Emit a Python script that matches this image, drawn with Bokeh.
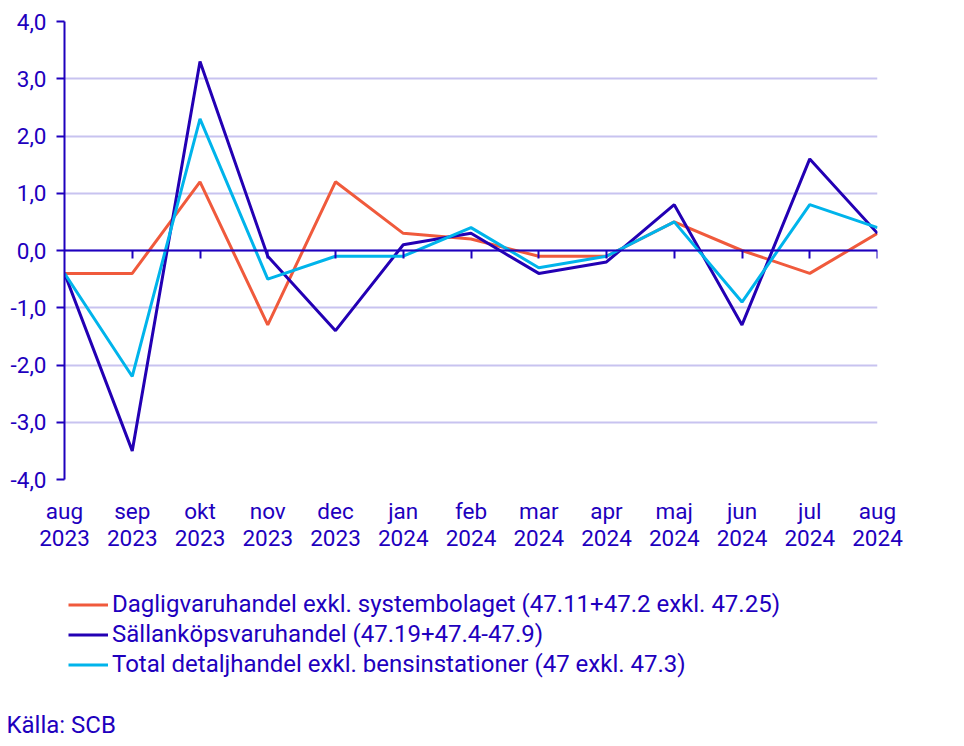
from bokeh.plotting import figure
from bokeh.layouts import column
from bokeh.models import (Range1d, FixedTicker, CustomJSTickFormatter, LinearAxis,
                          Legend, LegendItem, Title)
from bokeh.embed import file_html
from bokeh.resources import INLINE

# ---- data ----
months = ["aug", "sep", "okt", "nov", "dec", "jan", "feb", "mar", "apr", "maj", "jun", "jul", "aug"]
years = ["2023", "2023", "2023", "2023", "2023", "2024", "2024", "2024", "2024", "2024", "2024", "2024", "2024"]
daglig = [-0.4, -0.4, 1.2, -1.3, 1.2, 0.3, 0.2, -0.1, -0.1, 0.5, 0.0, -0.4, 0.3]
sallan = [-0.4, -3.5, 3.3, -0.1, -1.4, 0.1, 0.3, -0.4, -0.2, 0.8, -1.3, 1.6, 0.3]
total = [-0.4, -2.2, 2.3, -0.5, -0.1, -0.1, 0.4, -0.3, -0.1, 0.5, -0.9, 0.8, 0.4]
series_names = [
    "Dagligvaruhandel exkl. systembolaget (47.11+47.2 exkl. 47.25)",
    "Sällanköpsvaruhandel (47.19+47.4-47.9)",
    "Total detaljhandel exkl. bensinstationer (47 exkl. 47.3)",
]
y_ticks = [-4, -3, -2, -1, 0, 1, 2, 3, 4]
source_text = "Källa: SCB"

# ---- style ----
TXT = "#1e00be"
GRID = "#c8c3f0"
COLORS = ["#f05a3c", "#2300b4", "#00b4eb"]
FONT = "Roboto"
W = 947

xs = list(range(len(months)))
labels = {i: f"{m}\n{y}" for i, (m, y) in enumerate(zip(months, years))}

p = figure(frame_width=813, frame_height=458, output_backend="svg", toolbar_location=None,
           x_range=Range1d(xs[0], xs[-1]), y_range=Range1d(y_ticks[0], y_ticks[-1]),
           min_border_left=64, min_border_top=21, min_border_right=W - 64 - 813,
           min_border_bottom=80)
p.outline_line_color = None
p.background_fill_color = "white"
p.border_fill_color = "white"

# x axis (labels only)
xa = p.xaxis[0]
xa.ticker = FixedTicker(ticks=xs)
xa.major_label_overrides = labels
xa.axis_line_color = None
xa.major_tick_line_color = None
xa.minor_tick_line_color = None
xa.major_label_text_font = FONT
xa.major_label_text_font_size = "22.5px"
xa.major_label_text_color = TXT
xa.major_label_text_line_height = 1.05
xa.major_label_standoff = 12

# zero line axis with ticks
za = LinearAxis(fixed_location=0, ticker=FixedTicker(ticks=xs[1:]))
za.axis_line_color = TXT
za.axis_line_width = 2
za.major_tick_line_color = TXT
za.major_tick_line_width = 2
za.major_tick_in = 8
za.major_tick_out = 0
za.minor_tick_line_color = None
za.major_label_text_font_size = "0px"
za.major_label_text_alpha = 0
za.major_label_standoff = 0
p.add_layout(za, "above")

# y axis
ya = p.yaxis[0]
ya.ticker = FixedTicker(ticks=y_ticks)
ya.formatter = CustomJSTickFormatter(code="return tick.toFixed(1).replace('.', ',');")
ya.axis_line_color = TXT
ya.axis_line_width = 2
ya.major_tick_line_color = TXT
ya.major_tick_line_width = 2
ya.major_tick_out = 8
ya.major_tick_in = 0
ya.minor_tick_line_color = None
ya.major_label_text_font = FONT
ya.major_label_text_font_size = "22.5px"
ya.major_label_text_color = TXT
ya.major_label_standoff = 10

p.xgrid.grid_line_color = None
p.ygrid.ticker = FixedTicker(ticks=y_ticks)
p.ygrid.grid_line_color = GRID
p.ygrid.grid_line_width = 2

for vals, c in zip([daglig, sallan, total], COLORS):
    p.line(xs, vals, line_color=c, line_width=3)

# ---- legend + source panel ----
H2 = 179
q = figure(width=W, height=H2, output_backend="svg", toolbar_location=None,
           x_axis_type=None, y_axis_type=None,
           x_range=Range1d(0, 1), y_range=Range1d(0, 1),
           min_border_left=64, min_border_right=W - 64 - 813,
           min_border_top=27, min_border_bottom=0)
q.outline_line_color = None
q.xgrid.grid_line_color = None
q.ygrid.grid_line_color = None
q.background_fill_color = "white"
q.border_fill_color = "white"

# legend-only handles (kept outside the visible range)
dummies = [q.line(x=[-2, -1], y=[-2, -1], line_color=c, line_width=3) for c in COLORS]
legend = Legend(items=[LegendItem(label=n, renderers=[r]) for n, r in zip(series_names, dummies)],
                location="top_left", orientation="vertical")
legend.label_text_font = FONT
legend.label_text_font_size = "24px"
legend.label_text_color = TXT
legend.border_line_color = None
legend.background_fill_alpha = 0
legend.padding = 0
legend.margin = 4
legend.glyph_width = 40
legend.glyph_height = 23
legend.label_height = 23
legend.label_standoff = 4
legend.spacing = 2
q.add_layout(legend, "center")

src = Title(text=source_text, align="left", offset=-58, text_font=FONT, text_font_size="24px",
            text_color=TXT, text_font_style="normal", standoff=0)
q.add_layout(src, "below")

layout = column(p, q, spacing=0)
open("out.html", "w").write(file_html(layout, INLINE))
